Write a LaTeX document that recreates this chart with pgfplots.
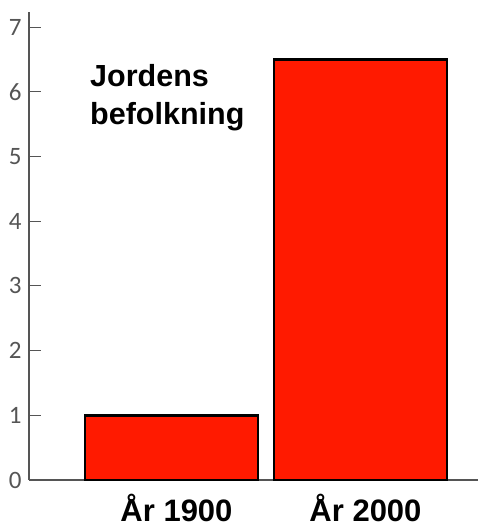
\documentclass[border=0pt]{standalone}
\usepackage{pgfplots}
\pgfplotsset{compat=1.18}
\usepackage{fontspec}
\setmainfont{Liberation Sans}
\newfontfamily\carlito{Carlito}
\definecolor{barred}{RGB}{255,26,0}
\definecolor{axgray}{RGB}{85,85,85}
\begin{document}
\begin{tikzpicture}
\begin{axis}[
    scale only axis, width=449pt, height=468pt,
    xmin=0, xmax=449, ymin=0, ymax=7.233,
    axis lines*=left, clip=false,
    axis line style={axgray, line width=1.3pt},
    ytick={0,1,...,7},
    ytick style={axgray, line width=1pt},
    tick align=inside, major tick length=12pt,
    xtick={142.5,331.5}, xticklabels={År 1900, År 2000},
    xtick style={draw=none},
    /pgf/number format/assume math mode=true,
    yticklabel style={font=\carlito\fontsize{25}{25}\selectfont, text=axgray, xshift=-4pt},
    xticklabel style={font=\bfseries\fontsize{31}{31}\selectfont, anchor=base, inner sep=0pt, yshift=-41pt, xshift=5pt},
]
\addplot[ybar, bar width=173, fill=barred, draw=black, line width=2.5pt]
    coordinates {(142.5,1) (331.5,6.5)};
\node[anchor=base west, inner sep=0pt, font=\bfseries\fontsize{30.5}{30.5}\selectfont] at (axis cs:61,6.08) {Jordens};
\node[anchor=base west, inner sep=0pt, font=\bfseries\fontsize{30.5}{30.5}\selectfont] at (axis cs:61,5.50) {befolkning};
\end{axis}
\pgfresetboundingbox
\path (-29pt,-46pt) rectangle (449pt,480pt);
\end{tikzpicture}
\end{document}
